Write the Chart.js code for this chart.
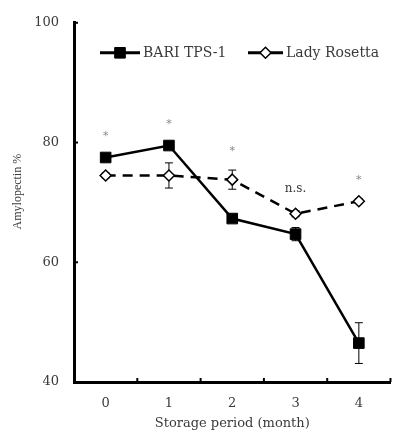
<!DOCTYPE html>
<html>
<head>
<meta charset="utf-8">
<script src="https://cdn.jsdelivr.net/npm/chart.js@4/dist/chart.umd.min.js"></script>
<style>
  html, body { margin: 0; padding: 0; background: #fff; }
  #wrap { width: 399px; height: 436px; }
</style>
</head>
<body>
<div id="wrap"><canvas id="grafica" width="399" height="436"></canvas></div>
<script>
// meses de almacenamiento
const meses = ['0', '1', '2', '3', '4'];

// amilopectina (%) media y error de cada variedad
const bariMedia = [77.5, 79.5, 67.3, 64.7, 46.5];
const bariError = [0.4, 0.4, 0.4, 1.1, 3.4];
const rosettaMedia = [74.5, 74.5, 73.8, 68.1, 70.2];
const rosettaError = [0.4, 2.1, 1.6, 0.5, 0.4];

// significancia entre variedades en cada mes
const significancia = ['*', '*', '*', 'n.s.', '*'];

const ticksY = [40, 60, 80, 100];

const FUENTE = "'DejaVu Serif', 'Liberation Serif', serif";
const TEXTO = '#3a3a3a';

// barras de error, marcas de significancia, ticks interiores, título Y y leyenda
const pluginExtras = {
    id: 'extras',
    beforeDatasetsDraw(chart) {
        const ctx = chart.ctx;
        const x = chart.scales.x, y = chart.scales.y;
        ctx.save();
        ctx.strokeStyle = '#000';
        ctx.lineWidth = 1;
        const series = [[bariMedia, bariError], [rosettaMedia, rosettaError]];
        series.forEach(([media, err]) => {
            media.forEach((m, i) => {
                const px = x.getPixelForValue(i);
                const top = y.getPixelForValue(m + err[i]);
                const bot = y.getPixelForValue(m - err[i]);
                ctx.beginPath();
                ctx.moveTo(px, top); ctx.lineTo(px, bot);
                ctx.moveTo(px - 4, top); ctx.lineTo(px + 4, top);
                ctx.moveTo(px - 4, bot); ctx.lineTo(px + 4, bot);
                ctx.stroke();
            });
        });
        ctx.restore();
    },
    afterDraw(chart) {
        const ctx = chart.ctx;
        const x = chart.scales.x, y = chart.scales.y;
        const area = chart.chartArea;
        ctx.save();

        // ticks hacia dentro
        ctx.strokeStyle = '#000';
        ctx.lineWidth = 2;
        ticksY.forEach(v => {
            const py = y.getPixelForValue(v);
            ctx.beginPath();
            ctx.moveTo(area.left, py); ctx.lineTo(area.left + 4, py);
            ctx.stroke();
        });
        for (let i = 0; i <= meses.length; i++) {
            const px = x.getPixelForValue(i - 0.5);
            ctx.beginPath();
            ctx.moveTo(px, area.bottom); ctx.lineTo(px, area.bottom - 4);
            ctx.stroke();
        }

        // título del eje Y, algo por encima del centro
        ctx.save();
        ctx.translate(18, area.top + (area.bottom - area.top) * 0.47);
        ctx.rotate(-Math.PI / 2);
        ctx.fillStyle = TEXTO;
        ctx.font = "12px 'Liberation Serif', serif";
        ctx.textAlign = 'center';
        ctx.textBaseline = 'middle';
        ctx.fillText('Amylopectin %', 0, 0);
        ctx.restore();

        // asteriscos y n.s.
        ctx.textAlign = 'center';
        ctx.textBaseline = 'middle';
        significancia.forEach((s, i) => {
            const alto = Math.max(bariMedia[i] + bariError[i], rosettaMedia[i] + rosettaError[i]);
            const py = y.getPixelForValue(alto) - 22;
            if (s === '*') {
                ctx.fillStyle = '#888';
                ctx.font = '11px ' + FUENTE;
                ctx.fillText(s, x.getPixelForValue(i), py + 3);
            } else {
                ctx.fillStyle = TEXTO;
                ctx.font = '12px ' + FUENTE;
                ctx.fillText(s, x.getPixelForValue(i), py);
            }
        });

        // leyenda
        const ly = area.top + 30;
        ctx.font = '14px ' + FUENTE;
        ctx.textAlign = 'left';
        chart.data.datasets.forEach((ds, k) => {
            const x0 = k === 0 ? 100 : 248;
            const largo = k === 0 ? 40 : 35;
            ctx.strokeStyle = '#000';
            ctx.lineWidth = 3;
            ctx.beginPath();
            ctx.moveTo(x0, ly); ctx.lineTo(x0 + largo, ly);
            ctx.stroke();
            const cx = x0 + largo / 2;
            ctx.fillStyle = ds.pointBackgroundColor;
            ctx.lineWidth = ds.pointBorderWidth;
            ctx.beginPath();
            if (ds.pointStyle === 'rect') {
                const s = ds.pointRadius * Math.SQRT1_2;
                ctx.rect(cx - s, ly - s, 2 * s, 2 * s);
            } else {
                const r = ds.pointRadius;
                ctx.moveTo(cx - r, ly); ctx.lineTo(cx, ly - r);
                ctx.lineTo(cx + r, ly); ctx.lineTo(cx, ly + r);
                ctx.closePath();
            }
            ctx.fill(); ctx.stroke();
            ctx.fillStyle = TEXTO;
            ctx.fillText(ds.label, x0 + largo + 3, ly + 1);
        });
        ctx.restore();
    }
};

const ctx = document.getElementById('grafica').getContext('2d');
new Chart(ctx, {
    type: 'line',
    data: {
        labels: meses,
        datasets: [{
            label: 'BARI TPS-1',
            data: bariMedia,
            borderColor: '#000',
            borderWidth: 2.5,
            pointStyle: 'rect',
            pointRadius: 7.5,
            pointBackgroundColor: '#000',
            pointBorderColor: '#000',
            pointBorderWidth: 1
        }, {
            label: 'Lady Rosetta',
            data: rosettaMedia,
            borderColor: '#000',
            borderWidth: 2.5,
            borderDash: [10, 7],
            pointStyle: 'rectRot',
            pointRadius: 5.5,
            pointBackgroundColor: '#fff',
            pointBorderColor: '#000',
            pointBorderWidth: 1.5
        }]
    },
    options: {
        responsive: false,
        animation: false,
        layout: { padding: { top: 22, right: 2, left: 0, bottom: 0 } },
        plugins: { legend: { display: false }, tooltip: { enabled: false } },
        scales: {
            x: {
                type: 'category',
                offset: true,
                grid: { display: false, offset: true, drawTicks: false },
                border: { display: true, color: '#000', width: 3 },
                ticks: { color: TEXTO, font: { family: FUENTE, size: 13 }, padding: 14 },
                title: {
                    display: true, text: 'Storage period (month)',
                    color: TEXTO, font: { family: FUENTE, size: 13 }, padding: { top: 2, bottom: 5 }
                },
                afterFit: s => { s.height = 54; }
            },
            y: {
                min: 40, max: 100,
                afterBuildTicks: s => { s.ticks = ticksY.map(v => ({ value: v })); },
                grid: { display: false, drawTicks: false },
                border: { display: true, color: '#000', width: 3 },
                ticks: { color: TEXTO, font: { family: FUENTE, size: 13 }, padding: 15 },
                afterFit: s => { s.width = 74; }
            }
        }
    },
    plugins: [pluginExtras]
});
</script>
</body>
</html>
